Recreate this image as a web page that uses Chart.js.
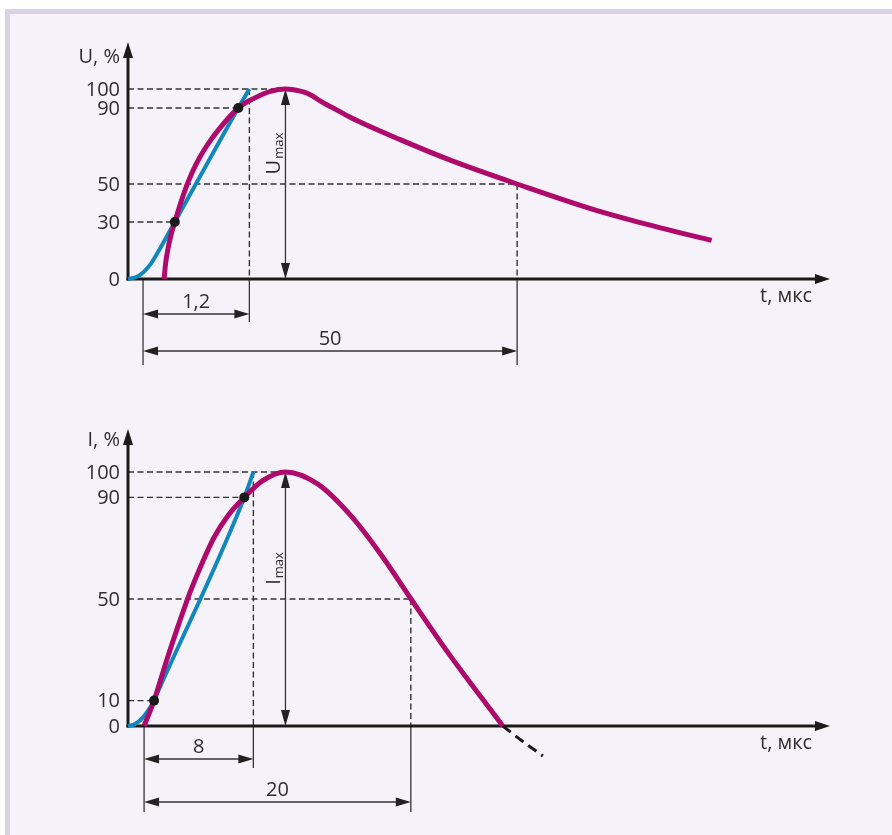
<!DOCTYPE html>
<html>
<head>
<meta charset="utf-8">
<script src="https://cdn.jsdelivr.net/npm/chart.js@4"></script>
<style>
  body { margin: 0; background: #fff; }
  #panel {
    position: absolute; left: 5px; top: 9px; width: 887px; height: 826px;
    box-sizing: border-box; background: #f5f3f9;
    border-top: 5px solid #ddd1e7; border-left: 5px solid #ddd1e7;
  }
  canvas { position: absolute; left: 0; }
  #chartU { top: 0; }
  #chartI { top: 400px; }
</style>
</head>
<body>
<div id="panel"></div>
<canvas id="chartU" width="892" height="400"></canvas>
<canvas id="chartI" width="892" height="435"></canvas>
<script>
// time axis is schematic (not to scale), 0..100 along the arrow
const uTime = [5.14, 5.35, 5.7, 6.15, 6.67, 7.5, 8.5, 9.7, 11.2, 13.0, 15.71, 18.0, 20.3, 22.43, 24.57, 25.53, 26.43, 27.43, 28.39, 29.29, 31.71, 38.86, 46, 55.43, 67.43, 76, 83.14]
const uValue = [0, 8, 16, 23.5, 30, 40, 50.5, 60.5, 70, 79, 90, 95.2, 98.8, 100, 98.9, 97.8, 96, 93.6, 91.6, 89.9, 85, 73.2, 62.4, 50, 35.3, 26.8, 20.3]
const uFrontTime = [0, 1.1, 2.2, 3.3, 4.3, 6.67, 15.71, 17.29]
const uFrontValue = [0, 0.9, 3.6, 8.2, 14.3, 30, 90, 100]
const uTicks = [0, 30, 50, 90, 100]
const uMarks = [[6.67, 30], [15.71, 90]]

const iTime = [2.29, 3.71, 5.43, 7.14, 8.86, 10.57, 12.29, 14.29, 16.57, 19.14, 22.43, 27, 31.71, 36, 40.29, 45.53, 50.29, 53.39]
const iValue = [0, 10, 25.2, 39.4, 52.8, 64.2, 74.4, 83, 90, 96.5, 100, 95.3, 82.9, 67.6, 50.1, 29.1, 11.4, 0]
const iTailTime = [53.39, 56.2, 59.1]
const iTailValue = [0, -6, -11.8]
const iFrontTime = [0, 1, 2, 3, 3.71, 4.2, 16.57, 17.86]
const iFrontValue = [0, 0.74, 2.96, 6.66, 10, 13.1, 90, 100]
const iTicks = [0, 10, 50, 90, 100]
const iMarks = [[3.71, 10], [16.57, 90]]

const MAGENTA = '#ae0a6c'
const BLUE = '#1287bd'
const INK = '#1a1a1a'
const TEXT = '#2e2e2e'
const FONT = '"Open Sans", "Noto Sans", sans-serif'

const pts = (xs, ys) => xs.map((x, i) => ({x: x, y: ys[i]}))

const seg = function (ctx, x1, y1, x2, y2) {
  ctx.beginPath()
  ctx.moveTo(x1, y1)
  ctx.lineTo(x2, y2)
  ctx.stroke()
}
const head = function (ctx, x, y, ang, len, half) {
  ctx.save()
  ctx.translate(x, y)
  ctx.rotate(ang)
  ctx.beginPath()
  ctx.moveTo(0, 0)
  ctx.lineTo(-len, -half)
  ctx.lineTo(-len, half)
  ctx.closePath()
  ctx.fill()
  ctx.restore()
}

const impulsePlugin = {
  id: 'impulse',
  beforeDatasetsDraw(chart, args, o) {
    const ctx = chart.ctx
    const a = chart.chartArea
    const X = v => chart.scales.x.getPixelForValue(v)
    const Y = v => chart.scales.y.getPixelForValue(v)
    const y0 = Y(0)
    ctx.save()

    // dashed guide lines
    ctx.strokeStyle = '#333'
    ctx.lineWidth = 1.4
    ctx.setLineDash([6, 3.5])
    o.hRefs.forEach(r => seg(ctx, a.left, Y(r[1]), X(r[0]), Y(r[1])))
    o.vRefs.forEach(r => seg(ctx, X(r[0]), Y(r[1]), X(r[0]), y0))
    ctx.setLineDash([])

    // dimension lines under the time axis
    ctx.fillStyle = '#222'
    ctx.strokeStyle = '#333'
    ctx.lineWidth = 1.3
    const x0 = X(o.dims[0].from)
    seg(ctx, x0, y0, x0, y0 + o.dims[o.dims.length - 1].ext)
    ctx.font = '20px ' + FONT
    ctx.textAlign = 'center'
    ctx.textBaseline = 'alphabetic'
    o.dims.forEach(d => {
      const x1 = X(d.to)
      const yy = y0 + d.off
      seg(ctx, x1, y0, x1, y0 + d.ext)
      seg(ctx, x0 + 4, yy, x1 - 4, yy)
      head(ctx, x0, yy, Math.PI, 15, 4.5)
      head(ctx, x1, yy, 0, 15, 4.5)
      ctx.fillStyle = TEXT
      ctx.fillText(d.label, (x0 + x1) / 2, yy - 6)
      ctx.fillStyle = '#222'
    })

    // peak amplitude arrow
    const xp = X(o.peak)
    seg(ctx, xp, Y(100) + 6, xp, y0 - 6)
    head(ctx, xp, Y(100), -Math.PI / 2, 16, 4.5)
    head(ctx, xp, y0, Math.PI / 2, 16, 4.5)
    ctx.save()
    ctx.translate(xp - 5, Y(o.peakLabelAt))
    ctx.rotate(-Math.PI / 2)
    ctx.fillStyle = TEXT
    ctx.textAlign = 'left'
    ctx.font = '20px ' + FONT
    const wMain = ctx.measureText(o.peakName).width
    ctx.font = '13px ' + FONT
    const wSub = ctx.measureText('max').width
    const sx = -(wMain + wSub + 1) / 2
    ctx.font = '20px ' + FONT
    ctx.fillText(o.peakName, sx, 0)
    ctx.font = '13px ' + FONT
    ctx.fillText('max', sx + wMain + 1, 2.5)
    ctx.restore()

    // axes with arrows
    ctx.strokeStyle = INK
    ctx.fillStyle = INK
    ctx.lineWidth = 3
    seg(ctx, a.left, y0 + 1.5, a.left, Y(100) - o.tipGap + 10)
    head(ctx, a.left, Y(100) - o.tipGap, -Math.PI / 2, 16, 5)
    seg(ctx, a.left - 1.5, y0, a.right - 10, y0)
    head(ctx, a.right, y0, 0, 15, 5)

    // tick labels and axis titles
    ctx.fillStyle = TEXT
    ctx.font = '20px ' + FONT
    ctx.textAlign = 'right'
    ctx.textBaseline = 'middle'
    o.ticks.forEach(v => ctx.fillText(String(v), a.left - 8, Y(v) + 1))
    ctx.textBaseline = 'alphabetic'
    ctx.fillText(o.yTitle, a.left - 8, Y(100) - 26)
    ctx.textAlign = 'left'
    ctx.fillText('t, мкс', 760, y0 + 23)
    ctx.restore()
  }
}

const makeChart = function (id, cfg) {
  const line = (data, color, width) => ({
    data: data,
    showLine: true,
    borderColor: color,
    borderWidth: width,
    pointRadius: 0,
    cubicInterpolationMode: 'monotone',
    clip: false
  })
  const datasets = [{
    data: cfg.marks.map(m => ({x: m[0], y: m[1]})),
    showLine: false,
    pointRadius: 5,
    pointBackgroundColor: INK,
    pointBorderWidth: 0,
    clip: false
  }, line(cfg.impulse, MAGENTA, 5), line(cfg.front, BLUE, 4)]
  if (cfg.tail) {
    const t = line(cfg.tail, INK, 3)
    t.borderDash = [10, 6]
    datasets.push(t)
  }
  return new Chart(document.getElementById(id), {
    type: 'scatter',
    data: {datasets: datasets},
    options: {
      responsive: false,
      animation: false,
      layout: {padding: cfg.padding},
      scales: {
        x: {type: 'linear', min: 0, max: 100, display: false},
        y: {type: 'linear', min: 0, max: 100, display: false}
      },
      plugins: {
        legend: {display: false},
        tooltip: {enabled: false},
        impulse: cfg.plugin
      }
    },
    plugins: [impulsePlugin]
  })
}

makeChart('chartU', {
  impulse: pts(uTime, uValue),
  front: pts(uFrontTime, uFrontValue),
  marks: uMarks,
  padding: {left: 128, right: 62, top: 89, bottom: 121},
  plugin: {
    ticks: uTicks,
    yTitle: 'U, %',
    tipGap: 47,
    hRefs: [[22.43, 100], [15.71, 90], [55.43, 50], [6.67, 30]],
    vRefs: [[17.29, 100], [55.43, 50]],
    dims: [{from: 2.14, to: 17.29, label: '1,2', off: 35, ext: 43},
           {from: 2.14, to: 55.43, label: '50', off: 72, ext: 86}],
    peak: 22.43,
    peakName: 'U',
    peakLabelAt: 66
  }
})

makeChart('chartI', {
  impulse: pts(iTime, iValue),
  front: pts(iFrontTime, iFrontValue),
  tail: pts(iTailTime, iTailValue),
  marks: iMarks,
  padding: {left: 128, right: 62, top: 72, bottom: 109},
  plugin: {
    ticks: iTicks,
    yTitle: 'I, %',
    tipGap: 43,
    hRefs: [[22.43, 100], [16.57, 90], [40.29, 50], [3.71, 10]],
    vRefs: [[17.86, 100], [40.29, 50]],
    dims: [{from: 2.29, to: 17.86, label: '8', off: 33, ext: 42},
           {from: 2.29, to: 40.29, label: '20', off: 76, ext: 86}],
    peak: 22.43,
    peakName: 'I',
    peakLabelAt: 62
  }
})
</script>
</body>
</html>
